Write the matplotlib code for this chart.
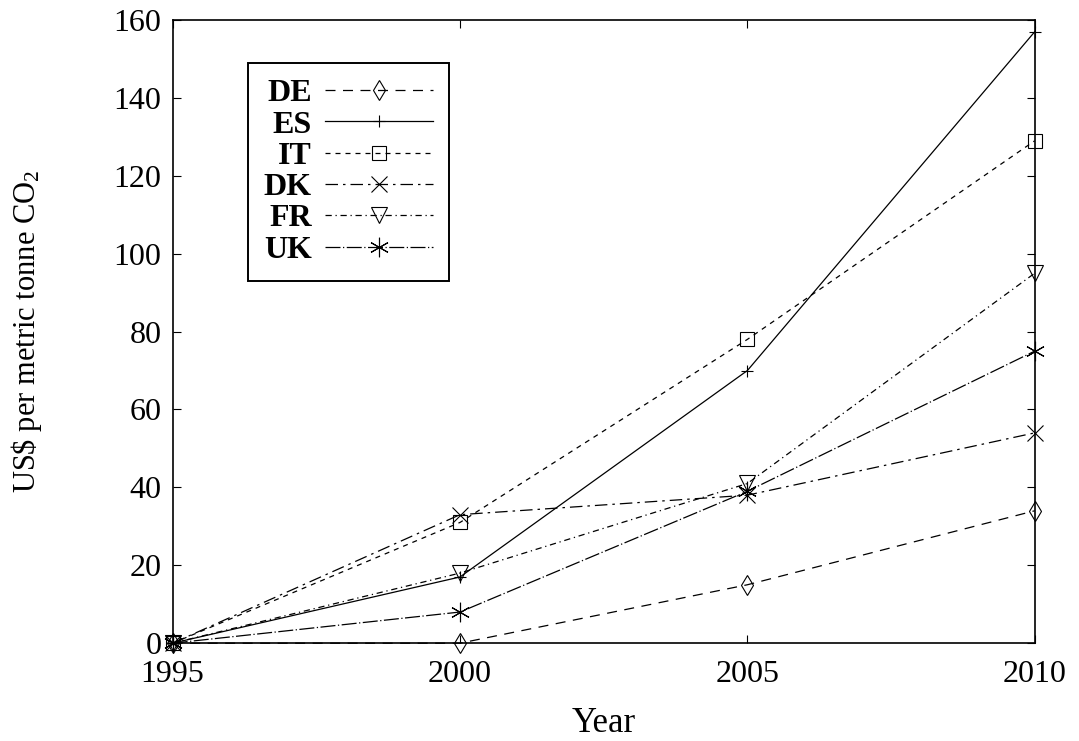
import matplotlib
matplotlib.use("Agg")
import matplotlib.pyplot as plt
from matplotlib.ticker import MultipleLocator

plt.rcParams['font.family'] = ['Liberation Serif', 'DejaVu Serif']
plt.rcParams['mathtext.fontset'] = 'custom'
plt.rcParams['mathtext.rm'] = 'Liberation Serif'
plt.rcParams['mathtext.it'] = 'Liberation Serif:italic'

years = [1995, 2000, 2005, 2010]
de = [0, 0, 15, 34]
es = [0, 17, 70, 157]
it = [0, 31, 78, 129]
dk = [0, 33, 38, 54]
fr = [0, 18, 41, 95]
uk = [0, 8, 39, 75]

series = [
    ("DE", de, dict(ls=(0, (8, 6)), marker='d', ms=10)),
    ("ES", es, dict(ls='-', marker='+', ms=8)),
    ("IT", it, dict(ls=(0, (4, 4)), marker='s', ms=10)),
    ("DK", dk, dict(ls=(0, (10, 4, 2, 4)), marker='x', ms=12)),
    ("FR", fr, dict(ls=(0, (5, 3, 1, 3)), marker='v', ms=11)),
    ("UK", uk, dict(ls=(0, (12, 2, 1, 2)), marker=(6, 2, 0), ms=14)),
]

fig = plt.figure(figsize=(10.79, 7.41), dpi=100)
ax = fig.add_axes([0.160, 0.132, 0.799, 0.841])

for name, vals, st in series:
    ax.plot(years, vals, color='black', lw=0.9, mfc='none', mec='black', mew=0.8,
            label=name, clip_on=False, **st)

ax.set_xlim(1995, 2010)
ax.set_ylim(0, 160)
ax.set_xticks(years)
ax.yaxis.set_major_locator(MultipleLocator(20))
ax.tick_params(direction='in', length=6, width=0.8, labelsize=23, top=True, right=True)
ax.tick_params(axis='x', pad=12)
ax.tick_params(axis='y', pad=8)
for s in ax.spines.values():
    s.set_linewidth(1.2)

ax.set_xlabel("Year", fontsize=25, labelpad=13)
ax.set_ylabel("US\\$ per metric tonne CO$_2$", fontsize=22, labelpad=50)

leg = ax.legend(loc='upper left', bbox_to_anchor=(0.087, 0.931), markerfirst=False,
                fancybox=False, edgecolor='black', framealpha=1, handlelength=3.4,
                prop={'size': 23, 'weight': 'bold'}, borderpad=0.5, labelspacing=0.06,
                handletextpad=0.4, borderaxespad=0)
leg.get_frame().set_linewidth(1.4)

fig.savefig("out.png", dpi=100)
